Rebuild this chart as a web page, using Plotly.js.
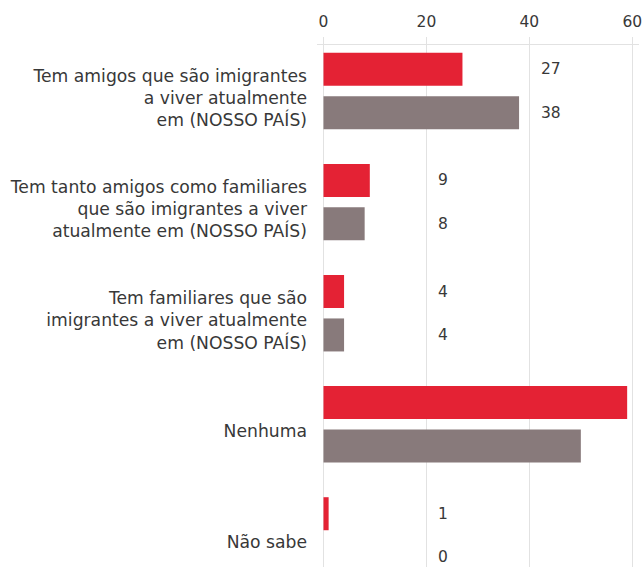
<!DOCTYPE html>
<html>
<head>
<meta charset="utf-8">
<script src="https://cdn.plot.ly/plotly-3.0.1.min.js"></script>
<style>html,body{margin:0;padding:0;background:#fff;}#chart{width:643px;height:567px;}</style>
</head>
<body>
<div id="chart"></div>
<script>
const categories = [
  "Tem amigos que são imigrantes<br>a viver atualmente<br>em (NOSSO PAÍS)",
  "Tem tanto amigos como familiares<br>que são imigrantes a viver<br>atualmente em (NOSSO PAÍS)",
  "Tem familiares que são<br>imigrantes a viver atualmente<br>em (NOSSO PAÍS)",
  "Nenhuma",
  "Não sabe"
];
const seriesA = [27, 9, 4, 59, 1];
const seriesB = [38, 8, 4, 50, 0];
const xTicks = [0, 20, 40, 60];

const RED = "#E42234";
const GREY = "#887A7B";
const FONT = "DejaVu Sans, sans-serif";
const TEXT = "#383838";
const xRange = [-1.26, 61.3];

const traces = [
  {type: "bar", orientation: "h", y: categories, x: seriesA,
   marker: {color: RED, line: {width: 0}}, hoverinfo: "none"},
  {type: "bar", orientation: "h", y: categories, x: seriesB,
   marker: {color: GREY, line: {width: 0}}, hoverinfo: "none"}
];

const annotations = [];
[[seriesA, -21.7], [seriesB, 21.7]].forEach(([vals, shift]) => {
  vals.forEach((v, i) => {
    const gx = 20 * Math.max(1, Math.ceil(v / 20));
    if (gx >= 60) return;
    annotations.push({
      x: gx, y: categories[i], xref: "x", yref: "y",
      text: String(v), showarrow: false, xanchor: "left", yanchor: "middle",
      xshift: 10, yshift: -shift,
      font: {family: FONT, size: 15.5, color: TEXT}
    });
  });
});

const layout = {
  width: 643, height: 567,
  margin: {l: 317, r: 4, t: 45, b: 0, pad: 0},
  paper_bgcolor: "#fff", plot_bgcolor: "#fff",
  showlegend: false,
  barmode: "group", bargap: 0.218, bargroupgap: 0.24,
  font: {family: FONT, color: TEXT},
  xaxis: {
    side: "top", range: xRange, tickvals: xTicks, ticktext: xTicks.map(String),
    showgrid: true, gridcolor: "#e2e2e2", gridwidth: 1,
    zeroline: false, showline: true, linecolor: "#e2e2e2", linewidth: 1,
    ticks: "outside", ticklen: 7, tickcolor: "#e2e2e2",
    ticklabelstandoff: 4,
    tickfont: {family: FONT, size: 15.5, color: TEXT}
  },
  yaxis: {
    type: "category", range: [4.284, -0.414],
    showgrid: false, zeroline: false, showline: false, ticks: "",
    ticklabelstandoff: 9, ticklabelshift: -7,
    tickfont: {family: FONT, size: 17.2, color: TEXT}
  },
  annotations: annotations
};

Plotly.newPlot("chart", traces, layout, {displayModeBar: false, staticPlot: true});
</script>
</body>
</html>
